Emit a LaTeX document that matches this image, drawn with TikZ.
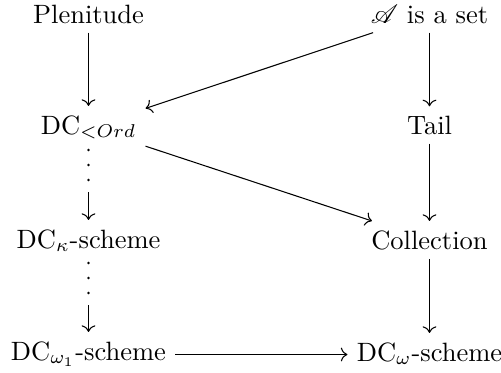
\documentclass[tikz,border=0pt]{standalone}
\usepackage{mathrsfs}
\usetikzlibrary{cd}
\begin{document}
\begin{tikzpicture}[x=0.3774pt,y=-0.3774pt,
  lbl/.style={anchor=base},
  arr/.style={->,>={cm to},line width=0.4pt},
  dotnode/.style={circle,fill=black,inner sep=0pt,minimum size=1.1pt}]
\useasboundingbox (0,0) rectangle (501,372);
\node[lbl] (pl) at (88.5,23) {Plenitude};
\node[lbl] (A) at (429.5,23) {$\mathscr{A}$ is a set};
\node[lbl] (ord) at (88.5,134) {DC$_{<Ord}$};
\node[lbl] (tail) at (429.5,134) {Tail};
\node[lbl] (kap) at (88.5,248) {DC$_\kappa$-scheme};
\node[lbl] (coll) at (429.5,249) {Collection};
\node[lbl] (om1) at (88.5,360) {DC$_{\omega_1}$-scheme};
\node[lbl] (om) at (429.5,361) {DC$_\omega$-scheme};
\coordinate (h) at (0,354.5);
% dots
\node[dotnode] (d1) at (88.5,150) {};
\node[dotnode] (d2) at (88.5,165) {};
\node[dotnode] (d3) at (88.5,180) {};
\node[dotnode] (e1) at (88.5,263) {};
\node[dotnode] (e2) at (88.5,278) {};
\node[dotnode] (e3) at (88.5,293) {};
\coordinate (s1) at (88.5,192);
\coordinate (s2) at (88.5,305);
% arrows
\draw[arr] (pl) -- (ord);
\draw[arr] (A.south) -- (A.south |- tail.north);
\draw[arr] (A) -- (ord);
\draw[arr] (ord) -- (coll);
\draw[arr] (tail.south) -- (tail.south |- coll.north);
\draw[arr] (coll.south) -- (coll.south |- om.north);
\draw[arr] (om1.east |- h) -- (om.west |- h);
\draw[arr] (s1) -- (s1 |- kap.north);
\draw[arr] (s2) -- (s2 |- om1.north);
\end{tikzpicture}
\end{document}
